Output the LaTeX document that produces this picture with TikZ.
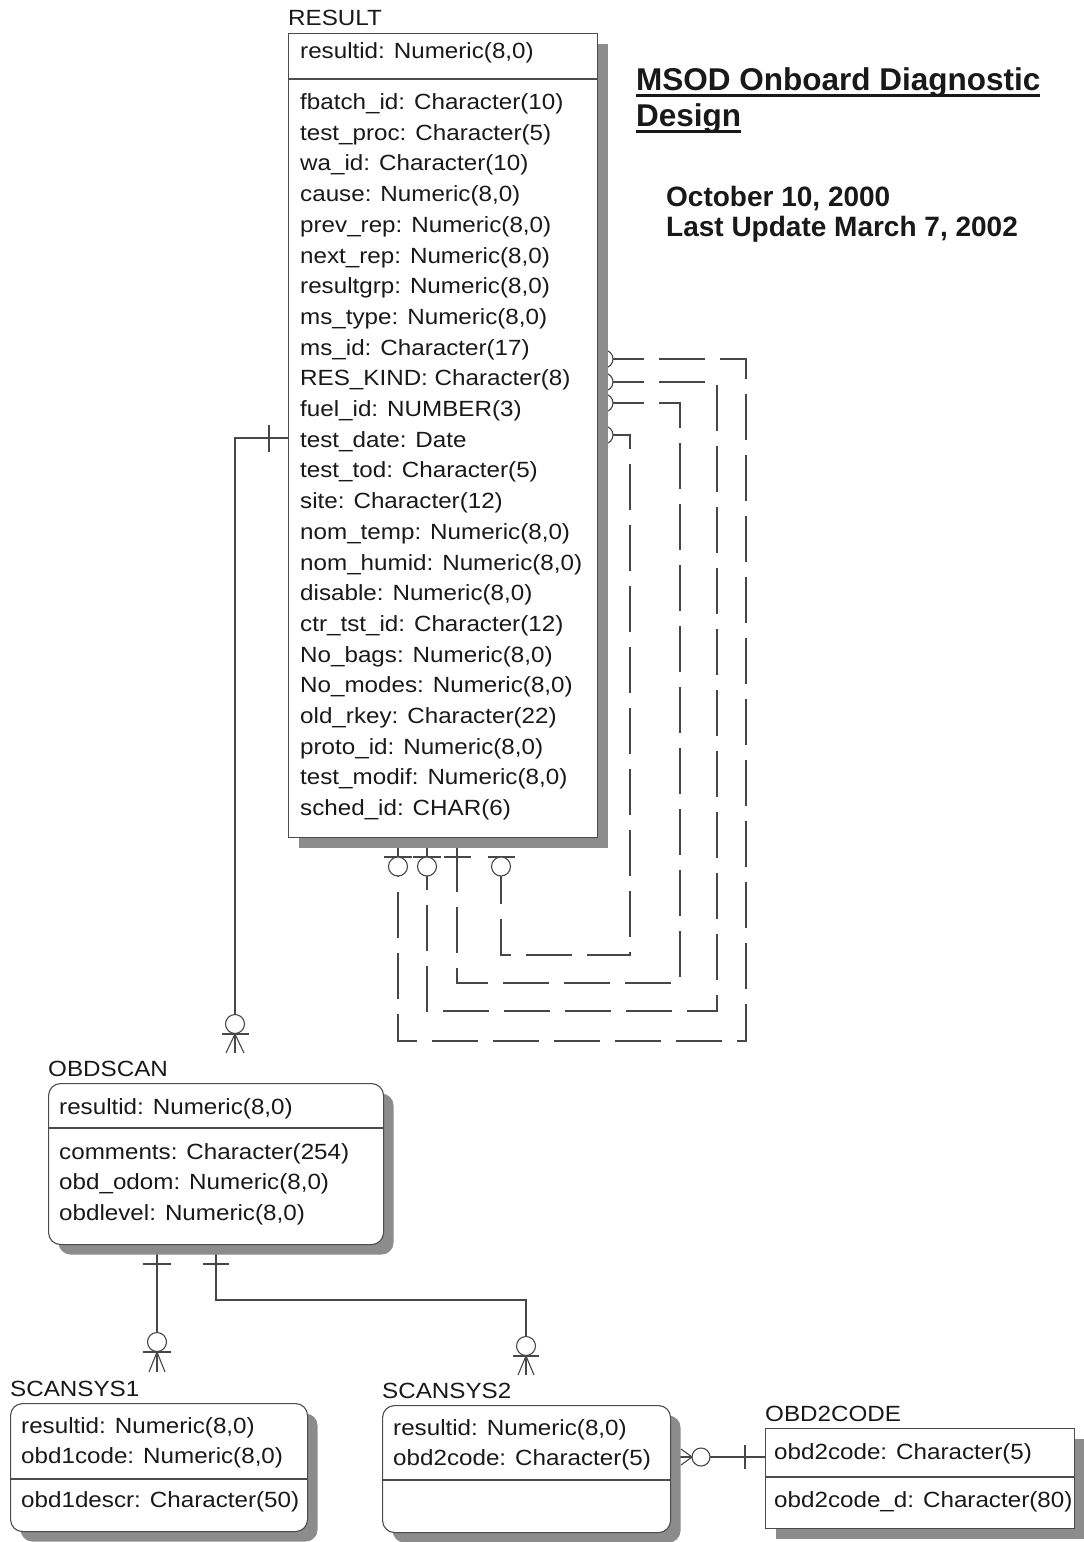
\documentclass[tikz,border=0pt]{standalone}
\usepackage{fontspec}
\setmainfont{Liberation Sans}
\newfontfamily\erdfont{Liberation Sans}[FakeStretch=1.1]
\usetikzlibrary{positioning,backgrounds,shadows}
\newcommand{\attrfont}{\erdfont\fontsize{22}{30.7}\selectfont}
\newsavebox{\titlebox}
\newcommand{\ulbar}[1]{\sbox{\titlebox}{#1}\rlap{\rule[-7pt]{\wd\titlebox}{3pt}}\usebox{\titlebox}}

\begin{document}
\begin{tikzpicture}[
  x=1pt, y=-1pt,
  entity/.style={draw=black!70, line width=1.1pt, fill=white, anchor=north west, inner sep=0pt,
                 drop shadow={shadow xshift=10pt, shadow yshift=-10pt, opacity=1, fill=black!45}},
  rentity/.style={entity, rounded corners=12pt},
  attr/.style={anchor=north west, inner sep=0pt, align=left, font=\attrfont, text=black!90},
  ename/.style={anchor=base west, inner sep=0pt, font=\attrfont, text=black!90},
  split/.style={draw=black!70, line width=1.1pt},
  rel/.style={draw=black!72, line width=1.1pt},
  selfrel/.style={rel, dash pattern=on 46pt off 15pt},
  nought/.style={rel, fill=white},
  heading/.style={anchor=north west, inner sep=0pt, align=left, text=black!90,
                  font=\bfseries\fontsize{31.5}{36}\selectfont},
  datenote/.style={anchor=north west, inner sep=0pt, align=left, text=black!90,
                   font=\bfseries\fontsize{28}{30}\selectfont}
]
\useasboundingbox (0,0) rectangle (1084,1542);

% RESULT
\node[ename] (result-name) at (288,25) {RESULT};
\node[entity, minimum width=309pt, minimum height=804pt] (result) at (288,33) {};
\node[attr] (result-key) at (300,36.8) {\strut resultid: Numeric(8,0)};
\draw[split] (result.west |- 0,79) -- (result.east |- 0,79);
\node[attr] (result-attr) at (300,87.8) {\strut fbatch\_id: Character(10)\\
  test\_proc: Character(5)\\ wa\_id: Character(10)\\ cause: Numeric(8,0)\\
  prev\_rep: Numeric(8,0)\\ next\_rep: Numeric(8,0)\\ resultgrp: Numeric(8,0)\\
  ms\_type: Numeric(8,0)\\ ms\_id: Character(17)\\ RES\_KIND: Character(8)\\
  fuel\_id: NUMBER(3)\\ test\_date: Date\\ test\_tod: Character(5)\\
  site: Character(12)\\ nom\_temp: Numeric(8,0)\\ nom\_humid: Numeric(8,0)\\
  disable: Numeric(8,0)\\ ctr\_tst\_id: Character(12)\\ No\_bags: Numeric(8,0)\\
  No\_modes: Numeric(8,0)\\ old\_rkey: Character(22)\\ proto\_id: Numeric(8,0)\\
  test\_modif: Numeric(8,0)\\ sched\_id: CHAR(6)};

% title
\node[heading] (title) at (636,64.8) {\strut\ulbar{MSOD Onboard Diagnostic}\\\ulbar{Design}};
\node[datenote] (dates) at (666,185) {\strut October 10, 2000\\Last Update March 7, 2002};

% OBDSCAN
\node[ename] (obdscan-name) at (48,1076) {OBDSCAN};
\node[rentity, minimum width=335pt, minimum height=161pt] (obdscan) at (48,1083) {};
\node[attr] (obdscan-key) at (59,1092.5) {\strut resultid: Numeric(8,0)};
\draw[split] (obdscan.west |- 0,1128) -- (obdscan.east |- 0,1128);
\node[attr] (obdscan-attr) at (59,1137.5) {\strut comments: Character(254)\\
  obd\_odom: Numeric(8,0)\\ obdlevel: Numeric(8,0)};

% SCANSYS1
\node[ename] (scansys1-name) at (10,1396) {SCANSYS1};
\node[rentity, minimum width=297pt, minimum height=128pt] (scansys1) at (10,1403) {};
\node[attr] (scansys1-key) at (21,1411.5) {\strut resultid: Numeric(8,0)\\ obd1code: Numeric(8,0)};
\draw[split] (scansys1.west |- 0,1479) -- (scansys1.east |- 0,1479);
\node[attr] (scansys1-attr) at (21,1485.5) {\strut obd1descr: Character(50)};

% SCANSYS2
\node[ename] (scansys2-name) at (382,1398) {SCANSYS2};
\node[rentity, minimum width=288pt, minimum height=127pt] (scansys2) at (382,1405) {};
\node[attr] (scansys2-key) at (393,1413.5) {\strut resultid: Numeric(8,0)\\ obd2code: Character(5)};
\draw[split] (scansys2.west |- 0,1480) -- (scansys2.east |- 0,1480);

% OBD2CODE
\node[ename] (obd2code-name) at (765,1421) {OBD2CODE};
\node[entity, minimum width=309pt, minimum height=100pt] (obd2code) at (765,1428) {};
\node[attr] (obd2code-key) at (774,1437.5) {\strut obd2code: Character(5)};
\draw[split] (obd2code.west |- 0,1477) -- (obd2code.east |- 0,1477);
\node[attr] (obd2code-attr) at (774,1485.5) {\strut obd2code\_d: Character(80)};

\begin{pgfonlayer}{background}
\fill[white] (0,0) rectangle (1084,1542);

% RESULT -- OBDSCAN
\coordinate (obdscan-in) at (235,1053);
\draw[rel] (result.west |- 0,438) -| (obdscan-in);
\draw[rel] (269,425) -- (269,452);
\draw[nought] (235,1024) circle[radius=9.5pt];
\draw[rel] (222,1034) -- (249,1034);
\draw[rel] (226,1053) -- (235,1034) -- (244,1053);

% OBDSCAN -- SCANSYS1
\coordinate (scansys1-in) at (157,1372);
\draw[rel] (obdscan.south -| 157,0) -- (scansys1-in);
\draw[rel] (143,1264) -- (171,1264);
\draw[nought] (157,1342) circle[radius=9.5pt];
\draw[rel] (143,1352) -- (171,1352);
\draw[rel] (149,1372) -- (157,1352) -- (165,1372);

% OBDSCAN -- SCANSYS2
\coordinate (scansys2-in) at (526,1375);
\draw[rel] (obdscan.south -| 216,0) |- (526,1300) -- (scansys2-in);
\draw[rel] (203,1264) -- (229,1264);
\draw[nought] (526,1346) circle[radius=9.5pt];
\draw[rel] (513,1356) -- (539,1356);
\draw[rel] (518,1375) -- (526,1356) -- (534,1375);

% SCANSYS2 -- OBD2CODE
\draw[rel] (scansys2.east |- 0,1457) -- (obd2code.west |- 0,1457);
\draw[nought] (701,1457) circle[radius=9pt];
\draw[rel] (681,1449) -- (692,1457) -- (681,1465);
\draw[rel] (745,1445) -- (745,1469);

% RESULT self relations
\draw[selfrel] (result.east |- 0,359) -| (746,1041) -| (result.south -| 398,0);
\draw[selfrel] (result.east |- 0,382) -| (717,1011) -| (result.south -| 427,0);
\draw[selfrel] (result.east |- 0,403) -| (680,983) -| (result.south -| 457,0);
\draw[selfrel] (result.east |- 0,435) -| (630,955) -| (result.south -| 501,0);
\draw[nought] (604,359) circle[radius=9pt];
\draw[nought] (604,382) circle[radius=9pt];
\draw[nought] (604,403) circle[radius=9pt];
\draw[nought] (604,435) circle[radius=9pt];
\draw[rel] (384,857) -- (412,857);
\draw[nought] (398,866.5) circle[radius=9.5pt];
\draw[rel] (413,857) -- (441,857);
\draw[nought] (427,866.5) circle[radius=9.5pt];
\draw[rel] (444,857) -- (471,857);
\draw[rel] (488,857) -- (515,857);
\draw[nought] (501,866.5) circle[radius=9.5pt];
\end{pgfonlayer}
\end{tikzpicture}
\end{document}
